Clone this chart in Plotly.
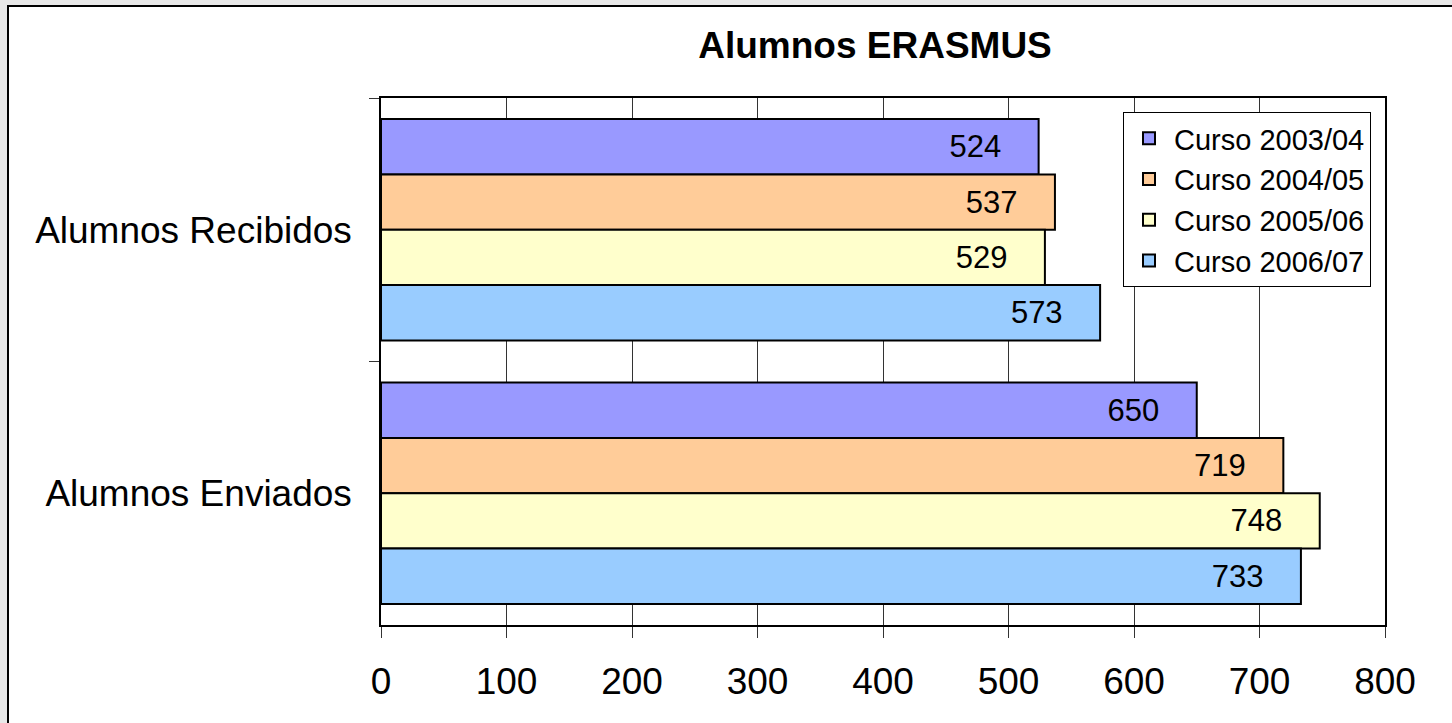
import plotly.graph_objects as go

categories = ["Alumnos Recibidos", "Alumnos Enviados"]
series_names = ["Curso 2003/04", "Curso 2004/05", "Curso 2005/06", "Curso 2006/07"]
curso_2003_04 = [524, 650]
curso_2004_05 = [537, 719]
curso_2005_06 = [529, 748]
curso_2006_07 = [573, 733]
series_values = [curso_2003_04, curso_2004_05, curso_2005_06, curso_2006_07]
colors = ["#9999FF", "#FFCC99", "#FFFFCC", "#99CCFF"]
x_ticks = [0, 100, 200, 300, 400, 500, 600, 700, 800]

FONT = "Liberation Sans, Arial, sans-serif"
W, H = 1452, 723
L, R, T, B = 381, 67, 98, 98
pw, ph = W - L - R, H - T - B

fig = go.Figure()
for name, vals, col in zip(series_names, series_values, colors):
    fig.add_trace(go.Bar(
        y=categories, x=vals, name=name, orientation="h",
        marker=dict(color=col, line=dict(color="black", width=2)),
        text=vals, texttemplate="%{x}\u2007\u2007",
        textposition="inside", insidetextanchor="end",
        textfont=dict(family=FONT, size=31, color="black"),
        cliponaxis=False,
    ))

def px2x(px):
    return (px - L) / pw

def py2y(py):
    return (H - B - py) / ph

fig.update_layout(
    width=W, height=H,
    margin=dict(l=L, r=R, t=T, b=B, pad=0),
    paper_bgcolor="#E8E8E8",
    plot_bgcolor="#C0C0C0",
    barmode="group",
    bargap=0.16, bargroupgap=0,
    font=dict(family=FONT, color="black"),
    title=dict(text="<b>Alumnos ERASMUS</b>", x=px2x(875), xref="paper", xanchor="center",
               y=1 - 45 / H, yanchor="middle",
               font=dict(family=FONT, size=37, color="black")),
    showlegend=True,
    legend=dict(x=px2x(1371), xanchor="right", y=py2y(112), yanchor="top",
                bgcolor="white", bordercolor="black", borderwidth=1,
                font=dict(family=FONT, size=29, color="black"),
                traceorder="normal", itemwidth=40),
    xaxis=dict(range=[0, 800], tickvals=x_ticks, ticktext=[str(v) for v in x_ticks],
               showgrid=True, gridcolor="#333333", gridwidth=1,
               showline=True, linecolor="black", linewidth=1.5, mirror=True,
               ticks="outside", ticklen=11, tickcolor="#333333", tickwidth=1,
               tickfont=dict(family=FONT, size=37, color="black"),
               ticklabelstandoff=12, zeroline=False, fixedrange=True),
    yaxis=dict(categoryorder="array", categoryarray=categories, autorange="reversed",
               showgrid=False, showline=True, linecolor="black", linewidth=1.5, mirror=True,
               ticks="outside", ticklen=10, tickcolor="#333333", tickwidth=1,
               tickson="boundaries",
               tickfont=dict(family=FONT, size=37, color="black"),
               ticklabelstandoff=20, fixedrange=True),
    shapes=[dict(type="rect", xref="paper", yref="paper", layer="below",
                 x0=px2x(8), x1=px2x(W + 10), y0=py2y(H + 10), y1=py2y(6),
                 fillcolor="white", line=dict(color="black", width=2))],
)

fig.write_html(
    "out.html",
    config={"displayModeBar": False},
    post_script="document.body.style.margin='0px';document.body.style.background='#E8E8E8';",
)
